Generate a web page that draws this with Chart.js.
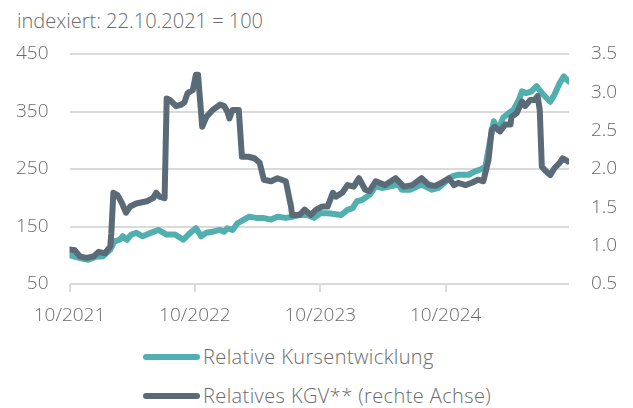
<!DOCTYPE html>
<html>
<head>
<meta charset="utf-8">
<script src="https://cdn.jsdelivr.net/npm/chart.js@4.4.1/dist/chart.umd.min.js"></script>
<style>
    body { margin: 0; background: #fff; font-family: 'Open Sans', sans-serif; font-weight: 300; color: #6b6b6b; }
    #wrap { position: relative; width: 633px; height: 408px; }
    #title { position: absolute; left: 17px; top: 7px; font-size: 20px; }
    #chart { position: absolute; left: 0; top: 0; }
    .leg { position: absolute; left: 143px; font-size: 20px; letter-spacing: 0.4px; display: flex; align-items: center; }
    .leg span.sw { display: inline-block; width: 57px; height: 6px; border-radius: 3px; margin-right: 3px; }
</style>
</head>
<body>
<div id="wrap">
    <div id="title">indexiert: 22.10.2021 = 100</div>
    <canvas id="chart" width="633" height="330"></canvas>
    <div class="leg" style="top: 343px;"><span class="sw" style="background:#52afaf"></span>Relative Kursentwicklung</div>
    <div class="leg" style="top: 382px;"><span class="sw" style="background:#5a6a77"></span>Relatives KGV** (rechte Achse)</div>
</div>
<script>
// months since 10/2021
const kursMonths = [0, 1.0, 1.8, 2.6, 3.2, 3.9, 4.3, 4.8, 5.1, 5.5, 5.9, 6.4, 7.0, 7.8, 8.5, 9.3, 10.1, 10.9, 11.5, 12.1,
    12.6, 13.1, 13.7, 14.4, 14.8, 15.1, 15.6, 16.1, 16.7, 17.2, 17.9, 18.5, 19.3, 19.9, 20.7, 21.3, 22.0, 22.8, 23.4, 24.0,
    24.8, 26.0, 26.6, 27.1, 27.5, 28.0, 28.7, 29.3, 29.9, 30.7, 31.5, 31.8, 32.6, 33.3, 33.7, 34.7, 35.3, 36.0, 36.6, 37.2,
    38.2, 38.8, 39.3, 39.8, 40.2, 40.6, 41.0, 41.5, 42.0, 42.5, 43.0, 43.3, 43.7, 44.2, 44.7, 45.2, 46.0, 46.4, 46.9, 47.3, 47.8];
const kursValues = [100, 95, 92, 98, 98, 110, 124, 127, 133, 127, 136, 139, 133, 139, 144, 136, 136, 127, 138, 147,
    133, 139, 141, 144, 141, 147, 144, 156, 162, 167, 165, 165, 162, 167, 165, 167, 170, 170, 165, 173,
    173, 170, 179, 182, 194, 196, 205, 220, 217, 220, 223, 214, 214, 220, 223, 214, 217, 228, 237, 240,
    240, 246, 249, 254, 295, 333, 318, 339, 347, 353, 370, 385, 382, 385, 394, 382, 367, 379, 399, 411, 402];

const kgvMonths = [0, 0.5, 1.0, 1.6, 2.3, 2.8, 3.4, 3.9, 4.0, 4.2, 4.6, 5.0, 5.4, 5.8, 6.4, 7.4, 8.0, 8.3, 8.6, 9.1,
    9.3, 9.6, 10.2, 10.7, 11.0, 11.3, 11.8, 12.1, 12.3, 12.7, 13.1, 13.7, 14.4, 14.8, 15.1, 15.3, 15.6, 16.2, 16.5, 17.1,
    17.7, 18.2, 18.6, 19.3, 19.9, 20.7, 21.2, 21.3, 22.0, 22.5, 23.1, 23.6, 24.2, 24.7, 25.2, 25.5, 26.1, 26.6, 27.2, 27.7,
    28.3, 28.7, 29.3, 30.2, 31.2, 32.0, 32.8, 33.7, 34.4, 35.0, 35.6, 36.3, 36.8, 37.2, 37.9, 38.5, 39.1, 39.6, 40.1, 40.4,
    40.7, 41.2, 41.7, 42.2, 42.3, 42.8, 43.3, 43.6, 44.1, 44.5, 44.8, 45.0, 45.2, 45.6, 46.0, 46.4, 46.9, 47.2, 47.7];
const kgvValues = [0.95, 0.94, 0.86, 0.84, 0.86, 0.92, 0.90, 0.99, 1.16, 1.69, 1.66, 1.56, 1.43, 1.51, 1.55, 1.58, 1.62, 1.69, 1.64, 1.62,
    2.92, 2.90, 2.82, 2.84, 2.87, 2.99, 3.03, 3.23, 3.23, 2.55, 2.68, 2.77, 2.84, 2.82, 2.75, 2.66, 2.77, 2.77, 2.16, 2.16,
    2.14, 2.08, 1.86, 1.84, 1.88, 1.84, 1.51, 1.40, 1.40, 1.47, 1.40, 1.47, 1.51, 1.51, 1.69, 1.64, 1.69, 1.79, 1.77, 1.88,
    1.73, 1.71, 1.84, 1.79, 1.88, 1.77, 1.79, 1.88, 1.79, 1.78, 1.82, 1.88, 1.79, 1.82, 1.79, 1.82, 1.86, 1.84, 2.12, 2.51,
    2.55, 2.49, 2.58, 2.58, 2.68, 2.73, 2.88, 2.82, 2.90, 2.90, 2.95, 2.77, 2.03, 1.97, 1.92, 2.01, 2.08, 2.14, 2.10];

const xTickMonths = [0, 12, 24, 36];
const xTickLabels = ['10/2021', '10/2022', '10/2023', '10/2024'];

const TEXT = '#6b6b6b';
const GRID = '#dadada';
const FONT = { family: 'Open Sans', weight: 300, size: 19 };

function pairs(xs, ys) {
    return xs.map((x, i) => ({ x: x, y: ys[i] }));
}

new Chart(document.getElementById('chart').getContext('2d'), {
    type: 'line',
    data: {
        datasets: [{
            label: 'Relative Kursentwicklung',
            data: pairs(kursMonths, kursValues),
            borderColor: '#52afaf',
            borderWidth: 6,
            yAxisID: 'y',
            order: 2
        }, {
            label: 'Relatives KGV** (rechte Achse)',
            data: pairs(kgvMonths, kgvValues),
            borderColor: '#5a6a77',
            borderWidth: 6,
            yAxisID: 'y2',
            order: 1
        }]
    },
    options: {
        responsive: false,
        animation: false,
        elements: {
            point: { radius: 0 },
            line: { tension: 0, borderJoinStyle: 'round', borderCapStyle: 'round' }
        },
        layout: { padding: { top: 54, left: 0, right: 0, bottom: 0 } },
        plugins: {
            legend: { display: false },
            tooltip: { enabled: false }
        },
        scales: {
            x: {
                type: 'linear',
                min: 0,
                max: 47.8,
                afterBuildTicks: s => { s.ticks = xTickMonths.map(v => ({ value: v })); },
                afterFit: s => { s.height = 46; },
                border: { display: false },
                grid: { drawOnChartArea: false, drawTicks: true, tickLength: 8, color: GRID, lineWidth: 2 },
                ticks: {
                    padding: 12,
                    color: TEXT,
                    font: FONT,
                    maxRotation: 0,
                    callback: v => xTickLabels[xTickMonths.indexOf(v)]
                }
            },
            y: {
                position: 'left',
                min: 50,
                max: 450,
                afterFit: s => { s.width = 69.5; },
                border: { display: false },
                grid: { color: GRID, lineWidth: 2, drawTicks: false },
                ticks: { stepSize: 100, padding: 21, color: TEXT, font: FONT }
            },
            y2: {
                position: 'right',
                min: 0.5,
                max: 3.5,
                afterFit: s => { s.width = 64; },
                border: { display: false },
                grid: { display: false, drawTicks: false },
                ticks: { stepSize: 0.5, padding: 22, color: TEXT, font: FONT, autoSkip: false, callback: v => v.toFixed(1) }
            }
        }
    }
});
</script>
</body>
</html>
